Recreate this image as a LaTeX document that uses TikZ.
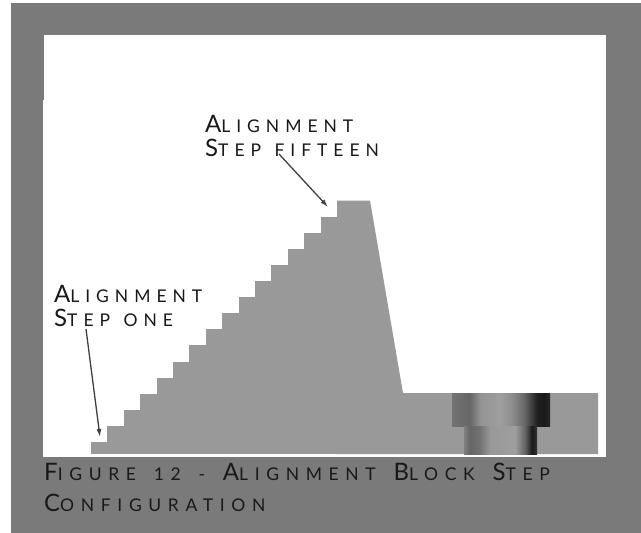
\documentclass[tikz,border=0pt]{standalone}
\usepackage{fontspec}
\setmainfont[LetterSpace=34,WordSpace=1.3]{Lato}
\newfontfamily\captionfont[LetterSpace=38,WordSpace=1.6]{Lato}
\usepackage{tikz}
\usetikzlibrary{arrows.meta}
\definecolor{panelgrey}{HTML}{7A7A7A}
\definecolor{blockgrey}{HTML}{999999}
\pgfdeclarehorizontalshading{upperbore}{100bp}{
  color(0bp)=(black!55); color(25bp)=(black!55); color(34bp)=(black!60); color(39.5bp)=(black!42);
  color(49.5bp)=(black!38); color(56bp)=(black!45); color(62bp)=(black!60); color(68.5bp)=(black!88);
  color(72bp)=(black!90); color(75bp)=(black!85); color(100bp)=(black!85)}
\pgfdeclarehorizontalshading{lowerbore}{100bp}{
  color(0bp)=(black!50); color(25bp)=(black!50); color(29bp)=(black!60); color(36bp)=(black!55);
  color(43bp)=(black!40); color(60bp)=(black!38); color(67bp)=(black!62); color(71.5bp)=(black!90);
  color(75bp)=(black!80); color(100bp)=(black!80)}
\begin{document}
\begin{tikzpicture}[x=1pt,y=-1pt]
\tikzset{label/.style = {anchor=north west,align=left,inner sep=0pt,text=black!90}}
\tikzset{pointer/.style = {-{Latex[length=8pt,width=5pt]},line width=1.3pt,draw=black!75}}
\newcommand{\bigsmall}[2]{{\fontsize{24}{24}\selectfont #1}{\fontsize{17.5}{24}\selectfont #2}}
\useasboundingbox (0,0) rectangle (641,533);
% panel
\fill[white] (0,0) rectangle (641,533);
\fill[panelgrey] (11,3) rectangle (641,533);
\fill[white] (44,35) rectangle (606,457);
\fill[white] (43,100) rectangle (44,457);
% block
\fill[blockgrey] (337,200.5) -- (370,200.5) -- (403,393) -- (598,393) -- (598,454) -- (337,454) -- cycle;
\foreach \i in {0,...,14}
  \fill[blockgrey] ({91+16.4*\i},{442-16.1*\i}) rectangle (345,454);
% bore
\shade[shading=upperbore] (452,393) rectangle (550,426);
\shade[shading=lowerbore] (464,426) rectangle (537,454);
% labels
\node[label,font=\fontsize{18}{24}\selectfont] (fifteen) at (205,115) {\bigsmall{A}{LIGNMENT}\\\bigsmall{S}{TEP FIFTEEN}};
\node[label,font=\fontsize{18}{24}\selectfont] (one) at (54,285) {\bigsmall{A}{LIGNMENT}\\\bigsmall{S}{TEP ONE}};
\node[label,font=\captionfont\fontsize{18}{31}\selectfont] (caption) at (44,463) {\bigsmall{F}{IGURE 12 - }\bigsmall{A}{LIGNMENT }\bigsmall{B}{LOCK }\bigsmall{S}{TEP}\\\bigsmall{C}{ONFIGURATION}};
% pointers
\coordinate (fifteentail) at (279,154);
\coordinate (fifteentip) at (328,207);
\coordinate (onetail) at (86,329);
\coordinate (onetip) at (100,437);
\draw[pointer] (fifteentail) to (fifteentip);
\draw[pointer] (onetail) to (onetip);
\end{tikzpicture}
\end{document}
